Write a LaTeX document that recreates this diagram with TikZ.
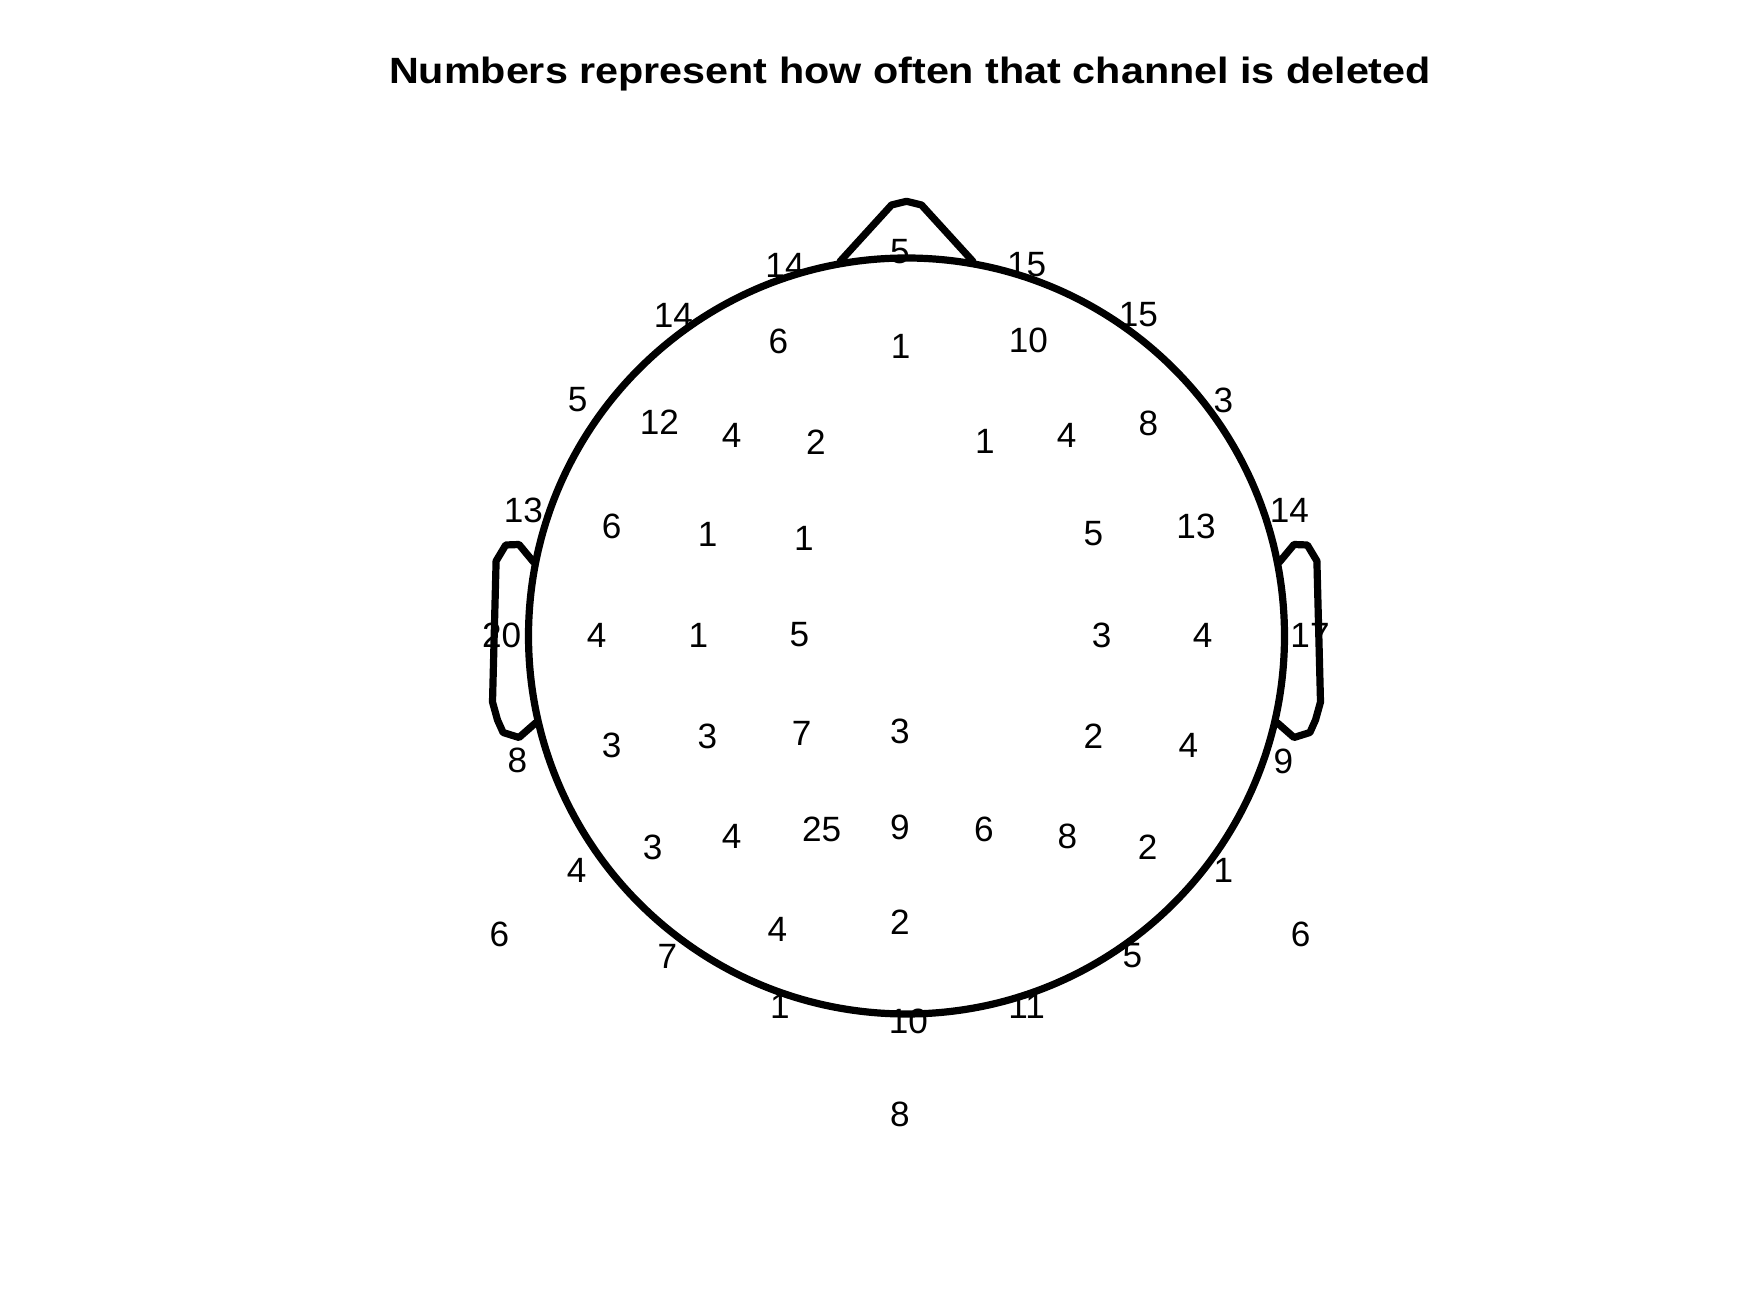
\documentclass[tikz,border=0pt]{standalone}
\usepackage{fontspec}
\usepackage{graphicx}
\setmainfont{Liberation Sans}
\usetikzlibrary{positioning}

\tikzset{
  headline/.style={line width=2.05pt,line join=round,line cap=round},
  chan/.style={inner sep=0pt,font=\fontsize{10}{12}\selectfont},
  caption/.style={inner sep=0pt,anchor=base,font=\fontsize{10.4}{12}\selectfont\bfseries}
}

\begin{document}
\begin{tikzpicture}[x=0.1mm,y=-0.1mm]
    \useasboundingbox (0,0) rectangle (1750,1313);

    \node[caption] (title) at (910,83.3) {\scalebox{1.13}[1]{Numbers represent how often that channel is deleted}};

    % head, nose and ears
    \coordinate (centre) at (906.5,636);
    \draw[headline] (centre) circle[radius=37.8mm];
    \draw[headline] (840,261.5) -- (891.5,205) -- (906.5,201.3) -- (921.5,205) -- (973,261.5);
    \draw[headline] (533.5,562) -- (519,544.5) -- (505.7,545) -- (496.1,561) -- (492.5,702)
      -- (497.5,720) -- (503.1,732.5) -- (519,737.5) -- (535.5,723);
    \draw[headline] (1279.5,562) -- (1294,544.5) -- (1307.3,545) -- (1316.9,561) -- (1320.5,702)
      -- (1315.5,720) -- (1309.9,732.5) -- (1294,737.5) -- (1277.5,723);

    % channel counts
    \foreach \x/\y/\n [count=\i] in {
      900/251.7/5, 785/265/14, 1026.7/265/15, 673.3/315/14, 1138.3/315/15,
      778.3/341.7/6, 900.7/346.7/1, 1028.3/340/10, 577.7/400/5, 1223.3/400/3,
      659.3/422.7/12, 731.7/435/4, 816/442.7/2, 985/441.7/1, 1066.7/435/4,
      1148.3/423.3/8, 523.3/510/13, 1289.3/510.7/14, 611.7/526/6, 707.7/534/1,
      804/538.3/1, 1093.3/533.3/5, 1196/526/13, 501.7/635/20, 596.7/635/4,
      698.3/635/1, 799.3/635/5, 1101.7/635/3, 1202.7/635/4, 1310/635/17,
      517.3/760/8, 611.7/745/3, 707.3/736.7/3, 801.7/733.3/7, 900/731.7/3,
      1093.3/736.7/2, 1188.3/745/4, 1283.3/761.7/9, 576.7/870.7/4, 652.7/847.7/3,
      731.7/836.7/4, 821.7/829.3/25, 900/827.3/9, 984/829.3/6, 1067.3/836/8,
      1147.7/847.7/2, 1223.3/870.7/1, 499.3/934/6, 1300.7/934/6, 667.3/956/7,
      777.3/929.3/4, 900/922.7/2, 1132.3/956/5, 780/1006.7/1, 908.3/1021.7/10,
      1026.7/1006.7/11, 900/1114.3/8}
      \node[chan] (ch\i) at (\x,\y) {\n};
\end{tikzpicture}
\end{document}
